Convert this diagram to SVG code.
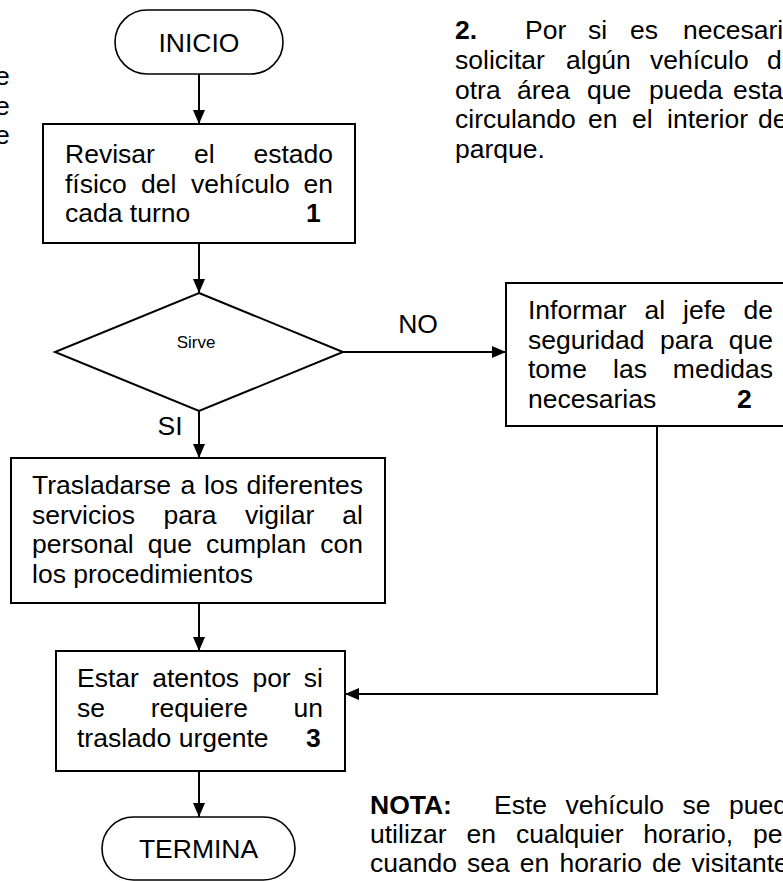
<svg xmlns="http://www.w3.org/2000/svg" width="783" height="881" viewBox="0 0 783 881">
<style>
.t{font-family:"Liberation Sans",Arial,sans-serif;font-size:26.5px;fill:#000}
.b{font-weight:bold}
.e{text-anchor:end}
.m{text-anchor:middle}
.s{font-size:17px}
.shape{fill:#fff;stroke:#000;stroke-width:2}
.pill{fill:#fff;stroke:#000;stroke-width:1.6}
.c{fill:none;stroke:#000;stroke-width:2}
</style>
<defs>
<marker id="ah" viewBox="0 0 14 12" refX="14" refY="6" markerWidth="14" markerHeight="12" markerUnits="userSpaceOnUse" orient="auto">
<path d="M0,0 L14,6 L0,12 z" fill="#000"/>
</marker>
</defs>
<rect width="783" height="881" fill="#fff"/>

<g id="left-fragment">
<text class="t" x="-5" y="85">e</text>
<text class="t" x="-5" y="115">e</text>
<text class="t" x="-5" y="144">e</text>
</g>

<g id="note2">
<text class="t b" x="455" y="39">2.</text>
<text class="t" x="525" y="39">Por</text>
<text class="t" x="588" y="39">si</text>
<text class="t" x="630" y="39">es</text>
<text class="t" x="683" y="39">necesari</text>
<text class="t" x="455" y="69">solicitar</text>
<text class="t" x="566" y="69">algún</text>
<text class="t" x="650" y="69">vehículo</text>
<text class="t" x="767" y="69">d</text>
<text class="t" x="455" y="99">otra</text>
<text class="t" x="517" y="99">área</text>
<text class="t" x="587" y="99">que</text>
<text class="t" x="649" y="99">pueda</text>
<text class="t" x="733" y="99">esta</text>
<text class="t" x="455" y="128">circulando</text>
<text class="t" x="588" y="128">en</text>
<text class="t" x="632" y="128">el</text>
<text class="t" x="667" y="128">interior</text>
<text class="t" x="758" y="128">de</text>
<text class="t" x="455" y="158">parque.</text>
</g>

<g id="connectors">
<line class="c" x1="199" y1="74" x2="199" y2="124" marker-end="url(#ah)"/>
<line class="c" x1="199" y1="243" x2="199" y2="293" marker-end="url(#ah)"/>
<line class="c" x1="343" y1="352" x2="506" y2="352" marker-end="url(#ah)"/>
<line class="c" x1="199" y1="411" x2="199" y2="458" marker-end="url(#ah)"/>
<line class="c" x1="199" y1="603" x2="199" y2="651" marker-end="url(#ah)"/>
<polyline class="c" points="657,426 657,694 345,694" marker-end="url(#ah)"/>
<line class="c" x1="199" y1="771" x2="199" y2="817" marker-end="url(#ah)"/>
<text class="t m" x="418" y="333">NO</text>
<text class="t m" x="170" y="435">SI</text>
</g>

<g id="inicio">
<rect class="pill" x="115" y="10" width="168" height="64" rx="32"/>
<text class="t m" x="199" y="52">INICIO</text>
</g>

<g id="revisar">
<rect class="shape" x="43" y="124" width="312" height="119"/>
<text class="t" x="65" y="163">Revisar</text>
<text class="t" x="194" y="163">el</text>
<text class="t e" x="333" y="163">estado</text>
<text class="t" x="65" y="193">físico</text>
<text class="t" x="141" y="193">del</text>
<text class="t" x="191" y="193">vehículo</text>
<text class="t e" x="333" y="193">en</text>
<text class="t" x="65" y="222">cada turno</text>
<text class="t b" x="306" y="222">1</text>
</g>

<g id="sirve">
<polygon class="shape" points="199,293 343,352 199,411 55,352"/>
<text class="t s m" x="196" y="348">Sirve</text>
</g>

<g id="informar">
<rect class="shape" x="506" y="283" width="300" height="143"/>
<text class="t" x="528" y="319">Informar</text>
<text class="t" x="644.5" y="319">al</text>
<text class="t" x="683" y="319">jefe</text>
<text class="t e" x="773" y="319">de</text>
<text class="t" x="528" y="349">seguridad</text>
<text class="t" x="660" y="349">para</text>
<text class="t e" x="773" y="349">que</text>
<text class="t" x="528" y="378">tome</text>
<text class="t" x="613" y="378">las</text>
<text class="t e" x="773" y="378">medidas</text>
<text class="t" x="528" y="408">necesarias</text>
<text class="t b" x="737" y="408">2</text>
</g>

<g id="trasladarse">
<rect class="shape" x="11" y="458" width="374" height="145"/>
<text class="t" x="32" y="494">Trasladarse</text>
<text class="t" x="180.6" y="494">a</text>
<text class="t" x="204" y="494">los</text>
<text class="t e" x="363" y="494">diferentes</text>
<text class="t" x="32" y="524">servicios</text>
<text class="t" x="163.5" y="524">para</text>
<text class="t" x="245" y="524">vigilar</text>
<text class="t e" x="363" y="524">al</text>
<text class="t" x="32" y="553">personal</text>
<text class="t" x="147.7" y="553">que</text>
<text class="t" x="206" y="553">cumplan</text>
<text class="t e" x="363" y="553">con</text>
<text class="t" x="32" y="583">los procedimientos</text>
</g>

<g id="estar">
<rect class="shape" x="56" y="651" width="289" height="120"/>
<text class="t" x="77" y="687">Estar</text>
<text class="t" x="152.2" y="687">atentos</text>
<text class="t" x="252.4" y="687">por</text>
<text class="t e" x="323" y="687">si</text>
<text class="t" x="77" y="717">se</text>
<text class="t" x="150.7" y="717">requiere</text>
<text class="t e" x="323" y="717">un</text>
<text class="t" x="77" y="747">traslado urgente</text>
<text class="t b" x="306" y="747">3</text>
</g>

<g id="termina">
<rect class="pill" x="102" y="817" width="193" height="63" rx="31.5"/>
<text class="t m" x="198.5" y="858">TERMINA</text>
</g>

<g id="nota">
<text class="t b" x="370" y="814">NOTA:</text>
<text class="t" x="494" y="814">Este</text>
<text class="t" x="565.4" y="814">vehículo</text>
<text class="t" x="682.5" y="814">se</text>
<text class="t" x="729" y="814">pued</text>
<text class="t" x="370" y="843">utilizar</text>
<text class="t" x="466.5" y="843">en</text>
<text class="t" x="516" y="843">cualquier</text>
<text class="t" x="643.3" y="843">horario,</text>
<text class="t" x="753" y="843">pe</text>
<text class="t" x="370" y="872">cuando</text>
<text class="t" x="467" y="872">sea</text>
<text class="t" x="519.8" y="872">en</text>
<text class="t" x="559.4" y="872">horario</text>
<text class="t" x="652" y="872">de</text>
<text class="t" x="691.6" y="872">visitante</text>
</g>
</svg>
